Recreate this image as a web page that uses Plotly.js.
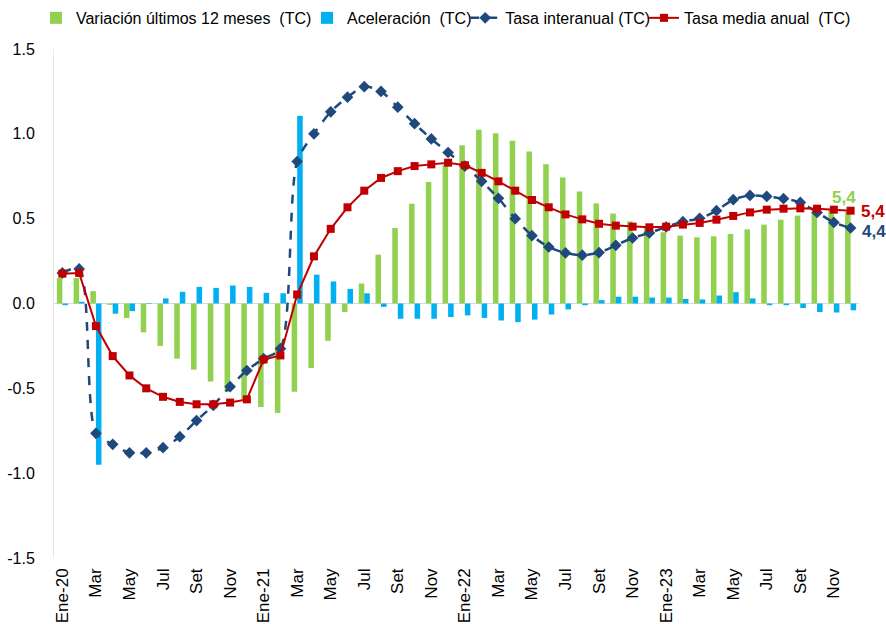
<!DOCTYPE html>
<html>
<head>
<meta charset="utf-8">
<script src="https://cdn.plot.ly/plotly-3.0.1.min.js"></script>
<style>
  html, body { margin: 0; padding: 0; background: #fff; }
  #graph { width: 886px; height: 624px; }
</style>
</head>
<body>
<div id="graph"></div>
<script>
// meses Ene-20 .. Dic-23
var meses = [
  'Ene-20','Feb-20','Mar-20','Abr-20','May-20','Jun-20','Jul-20','Ago-20','Set-20','Oct-20','Nov-20','Dic-20',
  'Ene-21','Feb-21','Mar-21','Abr-21','May-21','Jun-21','Jul-21','Ago-21','Set-21','Oct-21','Nov-21','Dic-21',
  'Ene-22','Feb-22','Mar-22','Abr-22','May-22','Jun-22','Jul-22','Ago-22','Set-22','Oct-22','Nov-22','Dic-22',
  'Ene-23','Feb-23','Mar-23','Abr-23','May-23','Jun-23','Jul-23','Ago-23','Set-23','Oct-23','Nov-23','Dic-23'
];

var variacion = [
  0.15, 0.15, 0.073, -0.008, -0.086, -0.17, -0.25, -0.325, -0.39, -0.46, -0.52, -0.57,
  -0.61, -0.645, -0.52, -0.38, -0.22, -0.05, 0.118, 0.288, 0.445, 0.588, 0.716, 0.818,
  0.933, 1.024, 1.004, 0.959, 0.896, 0.82, 0.743, 0.66, 0.59, 0.53, 0.484, 0.45,
  0.42, 0.40, 0.39, 0.396, 0.41, 0.437, 0.465, 0.494, 0.518, 0.535, 0.55, 0.54
];

var aceleracion = [
  -0.01, 0.01, -0.95, -0.06, -0.045, -0.003, 0.03, 0.069, 0.098, 0.092, 0.106, 0.098,
  0.063, 0.06, 1.106, 0.17, 0.13, 0.086, 0.06, -0.02, -0.09, -0.09, -0.09, -0.08,
  -0.07, -0.085, -0.10, -0.11, -0.095, -0.065, -0.035, -0.01, 0.02, 0.04, 0.04, 0.035,
  0.035, 0.027, 0.024, 0.047, 0.067, 0.03, -0.01, -0.01, -0.027, -0.05, -0.053, -0.04
];

var interanual = [
  0.18, 0.204, -0.765, -0.83, -0.88, -0.88, -0.85, -0.785, -0.69, -0.60, -0.49, -0.395,
  -0.325, -0.266, 0.837, 1.00, 1.13, 1.216, 1.278, 1.25, 1.157, 1.06, 0.97, 0.89,
  0.81, 0.72, 0.62, 0.50, 0.40, 0.333, 0.298, 0.285, 0.30, 0.343, 0.386, 0.416,
  0.451, 0.482, 0.502, 0.547, 0.612, 0.637, 0.631, 0.618, 0.596, 0.537, 0.478, 0.445
];

var mediaAnual = [
  0.176, 0.18, -0.133, -0.31, -0.424, -0.50, -0.55, -0.58, -0.594, -0.594, -0.584, -0.565,
  -0.33, -0.306, 0.053, 0.278, 0.44, 0.567, 0.665, 0.74, 0.78, 0.81, 0.82, 0.83,
  0.815, 0.77, 0.72, 0.665, 0.61, 0.567, 0.525, 0.496, 0.47, 0.459, 0.453, 0.449,
  0.453, 0.465, 0.475, 0.494, 0.516, 0.537, 0.553, 0.559, 0.561, 0.559, 0.553, 0.547
];

var nombresMes = ['Ene','Feb','Mar','Abr','May','Jun','Jul','Ago','Set','Oct','Nov','Dic'];

var ejeY = [-1.5, -1.0, -0.5, 0.0, 0.5, 1.0, 1.5];
var ejeYTexto = ['-1.5', '-1.0', '-0.5', '0.0', '0.5', '1.0', '1.5'];

// etiquetas finales (tasas en %)
var etiquetaVariacion = '5,4';
var etiquetaMedia = '5,4';
var etiquetaInteranual = '4,4';

var verde = '#92D050';
var celeste = '#00B0F0';
var azul = '#1F497D';
var rojo = '#C00000';
var fuente = 'Liberation Sans, Arial, sans-serif';
var sp = '\u00a0';

// un tick cada dos meses, con año solo en Enero
var tickvals = [];
var ticktext = [];
for (var i = 0; i < meses.length; i += 2) {
  tickvals.push(meses[i]);
  var m = nombresMes[i % 12];
  ticktext.push(m == 'Ene' ? meses[i] : m);
}

var ultimo = meses[meses.length - 1];
var n = meses.length - 1;

var data = [
  {
    x: meses, y: variacion, type: 'bar',
    name: 'Variación últimos 12 meses ' + sp + '(TC)',
    legend: 'legend',
    marker: { color: verde }
  },
  {
    x: meses, y: aceleracion, type: 'bar',
    name: 'Aceleración ' + sp + '(TC)',
    legend: 'legend2',
    marker: { color: celeste }
  },
  {
    x: meses, y: interanual, type: 'scatter', mode: 'lines+markers',
    name: 'Tasa interanual (TC)',
    legend: 'legend3',
    line: { color: azul, width: 2.5, dash: 'dash', shape: 'spline', smoothing: 0.8 },
    marker: { symbol: 'diamond', size: 9, color: azul }
  },
  {
    x: meses, y: mediaAnual, type: 'scatter', mode: 'lines+markers',
    name: 'Tasa media anual ' + sp + '(TC)',
    legend: 'legend4',
    line: { color: rojo, width: 2 },
    marker: { symbol: 'square', size: 8, color: rojo }
  }
];

// una leyenda por serie para acercar las entradas como en el original
function leyenda(x) {
  return {
    orientation: 'h',
    x: x, xanchor: 'left',
    y: 1.061, yanchor: 'middle',
    font: { family: fuente, size: 16, color: '#000' },
    itemwidth: 30,
    bgcolor: 'rgba(0,0,0,0)'
  };
}

var layout = {
  width: 886,
  height: 624,
  margin: { l: 54, r: 27, t: 49, b: 66, autoexpand: false },
  paper_bgcolor: '#fff',
  plot_bgcolor: '#fff',
  font: { family: fuente, size: 16, color: '#000' },
  barmode: 'group',
  bargap: 0.34,
  bargroupgap: 0,
  showlegend: true,
  legend: leyenda(-0.0224),
  legend2: leyenda(0.3143),
  legend3: leyenda(0.5108),
  legend4: leyenda(0.7329),
  xaxis: {
    type: 'category',
    categoryorder: 'array',
    categoryarray: meses,
    range: [-0.5, meses.length - 0.5],
    tickmode: 'array',
    tickvals: tickvals,
    ticktext: ticktext,
    tickangle: -90,
    tickfont: { family: fuente, size: 17, color: '#000' },
    showgrid: false,
    showline: false,
    zeroline: false,
    ticks: '',
    automargin: false,
    ticklabelstandoff: 6
  },
  yaxis: {
    range: [-1.5, 1.5],
    tickmode: 'array',
    tickvals: ejeY,
    ticktext: ejeYTexto,
    tickfont: { family: fuente, size: 16, color: '#000' },
    showgrid: false,
    showline: true,
    linecolor: '#e8e8e0',
    linewidth: 1,
    zeroline: true,
    zerolinecolor: '#d9d9d9',
    zerolinewidth: 1.5,
    ticks: '',
    automargin: false,
    ticklabelstandoff: 15
  },
  annotations: [
    {
      x: ultimo, y: variacion[n], xref: 'x', yref: 'y',
      text: '<b>' + etiquetaVariacion + '</b>', showarrow: false,
      xshift: -7, yshift: 14,
      font: { family: fuente, size: 17, color: verde }
    },
    {
      x: ultimo, y: mediaAnual[n], xref: 'x', yref: 'y',
      text: '<b>' + etiquetaMedia + '</b>', showarrow: false,
      xshift: 22, yshift: -1,
      font: { family: fuente, size: 17, color: rojo }
    },
    {
      x: ultimo, y: interanual[n], xref: 'x', yref: 'y',
      text: '<b>' + etiquetaInteranual + '</b>', showarrow: false,
      xshift: 23, yshift: -3,
      font: { family: fuente, size: 17, color: azul }
    }
  ]
};

Plotly.newPlot('graph', data, layout, { displayModeBar: false, staticPlot: true });
</script>
</body>
</html>
